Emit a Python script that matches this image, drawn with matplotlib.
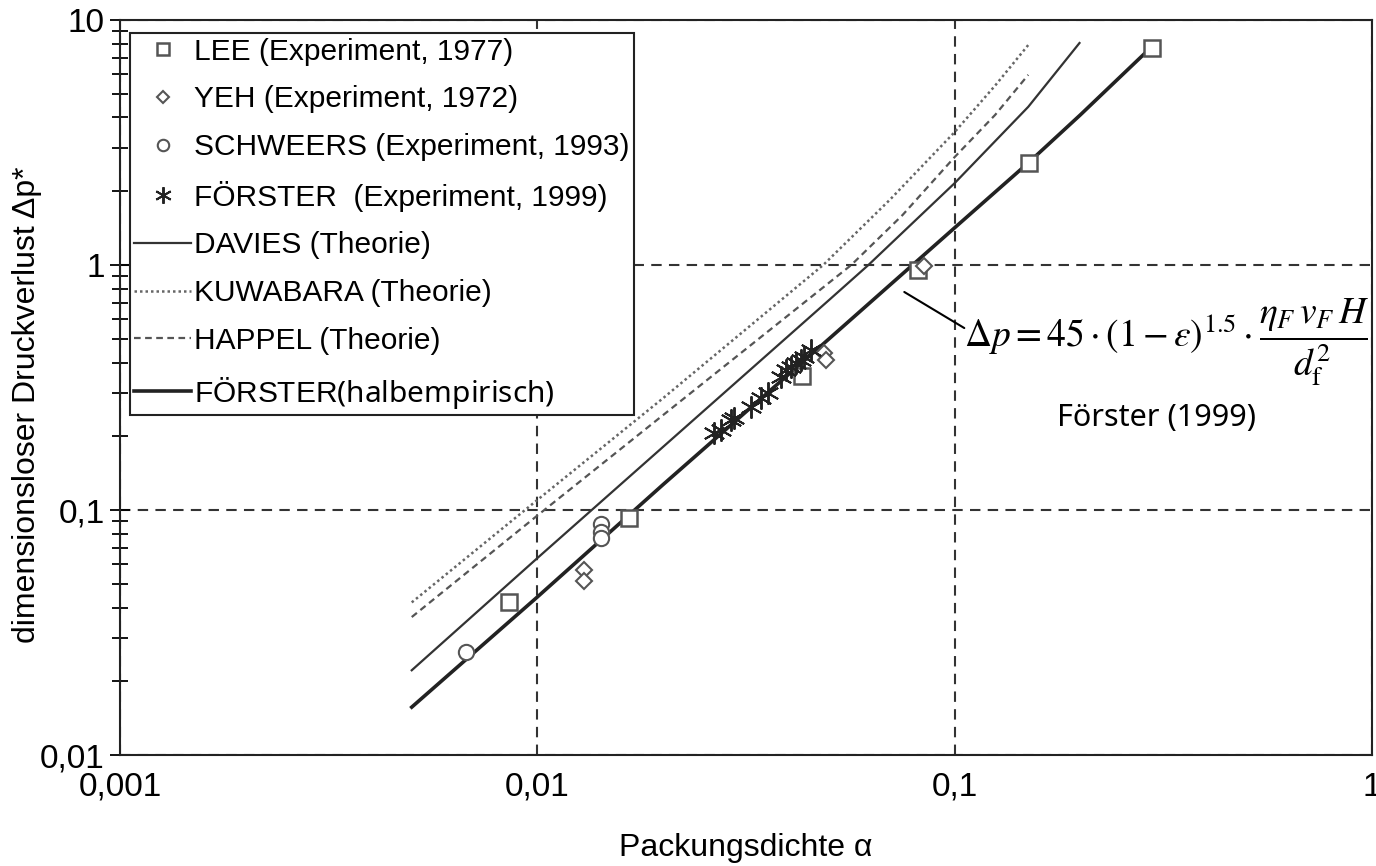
import matplotlib
matplotlib.use('Agg')
import matplotlib.pyplot as plt
from matplotlib.ticker import FixedLocator, FixedFormatter, LogLocator, NullLocator

# --- fonts: Helvetica-like for the figure, Noto Sans for the added notes ---
plt.rcParams['font.family'] = ['Liberation Sans', 'DejaVu Sans']
plt.rcParams['mathtext.fontset'] = 'custom'
plt.rcParams['mathtext.rm'] = 'Noto Sans'

# --- data ---
# experiments
lee_x = [0.00853, 0.01656, 0.0431, 0.0818, 0.151, 0.2966]
lee_y = [0.042, 0.0927, 0.352, 0.954, 2.61, 7.69]

yeh_x = [0.01292, 0.01292, 0.0485, 0.0492, 0.0845]
yeh_y = [0.0569, 0.0513, 0.438, 0.409, 0.99]

schweers_x = [0.00673, 0.0142, 0.0142, 0.0142]
schweers_y = [0.0263, 0.0877, 0.0813, 0.0769]

foerster_exp_x = [0.0265, 0.0275, 0.0291, 0.0296, 0.0325, 0.0344, 0.0357,
                  0.0384, 0.0394, 0.0405, 0.0417, 0.0428, 0.0436, 0.0453]
foerster_exp_y = [0.206, 0.212, 0.233, 0.238, 0.263, 0.286, 0.30,
                  0.349, 0.373, 0.384, 0.398, 0.41, 0.421, 0.45]

# theory curves
davies_x = [0.005, 0.01, 0.02, 0.05, 0.0621, 0.1, 0.15, 0.199]
davies_y = [0.0222, 0.0637, 0.181, 0.72, 1.0, 2.16, 4.42, 8.05]

kuwabara_x = [0.005, 0.01, 0.02, 0.0484, 0.07, 0.1, 0.125, 0.15]
kuwabara_y = [0.042, 0.11, 0.286, 1.0, 1.85, 3.49, 5.4, 7.9]

happel_x = [0.005, 0.01, 0.02, 0.0565, 0.075, 0.1, 0.125, 0.15]
happel_y = [0.0366, 0.095, 0.244, 1.0, 1.6, 2.76, 4.1, 5.97]

foerster_x = [0.005, 0.01, 0.02, 0.05, 0.1, 0.15, 0.2, 0.29]
foerster_y = [0.0157, 0.0442, 0.127, 0.50, 1.42, 2.61, 4.1, 7.5]

# tick labels with decimal comma
x_ticks = [0.001, 0.01, 0.1, 1]
x_labels = ['0,001', '0,01', '0,1', '1']
y_ticks = [0.01, 0.1, 1, 10]
y_labels = ['0,01', '0,1', '1', '10']

# --- canvas ---
fig = plt.figure(figsize=(13.76, 8.66), dpi=100)
ax = fig.add_axes([0.0872, 0.128, 0.910, 0.849])

ax.set_xscale('log')
ax.set_yscale('log')
ax.set_xlim(0.001, 1)
ax.set_ylim(0.01, 10)

# grid only on the decades
ax.grid(True, which='major', ls=(0, (5, 3.5)), lw=1.5, color='#333333')

mk_col = '#555555'

# experiment markers
ax.plot(lee_x, lee_y, 's', ms=11, mfc='white', mec=mk_col, mew=1.8,
        label='LEE (Experiment, 1977)', zorder=5)
ax.plot(yeh_x, yeh_y, 'D', ms=8, mfc='white', mec=mk_col, mew=1.5,
        label='YEH (Experiment, 1972)', zorder=5)
ax.plot(schweers_x, schweers_y, 'o', ms=11, mfc='white', mec=mk_col, mew=1.5,
        label='SCHWEERS (Experiment, 1993)', zorder=5)
ax.plot(foerster_exp_x, foerster_exp_y, ls='none', marker=(6, 2, 0), ms=16,
        mec='#222222', mew=1.4, label='FÖRSTER  (Experiment, 1999)', zorder=5)

# theory lines
ax.plot(davies_x, davies_y, '-', lw=1.6, color='#333333',
        label='DAVIES (Theorie)')
ax.plot(kuwabara_x, kuwabara_y, ls=(0, (1, 1.2)), lw=1.8, color='#666666',
        label='KUWABARA (Theorie)')
ax.plot(happel_x, happel_y, ls=(0, (3, 2)), lw=1.6, color='#555555',
        label='HAPPEL (Theorie)')
ax.plot(foerster_x, foerster_y, '-', lw=2.6, color='#222222',
        label=r'FÖRSTER$\mathrm{(halbempirisch)}$')

# ticks: only y gets marks crossing the spine
ax.xaxis.set_major_locator(FixedLocator(x_ticks))
ax.xaxis.set_major_formatter(FixedFormatter(x_labels))
ax.xaxis.set_minor_locator(NullLocator())
ax.yaxis.set_major_locator(FixedLocator(y_ticks))
ax.yaxis.set_major_formatter(FixedFormatter(y_labels))
ax.yaxis.set_minor_locator(LogLocator(base=10, subs=range(2, 10)))
ax.tick_params(axis='x', which='both', length=0, pad=12, labelsize=24)
ax.tick_params(axis='y', which='major', direction='inout', length=14,
               width=1.3, pad=4, labelsize=24)
ax.tick_params(axis='y', which='minor', direction='inout', length=11,
               width=1.3)
for sp in ax.spines.values():
    sp.set_linewidth(1.5)
    sp.set_color('#222222')

ax.set_xlabel('Packungsdichte α', fontsize=23, labelpad=22)
ax.set_ylabel('dimensionsloser Druckverlust Δp*', fontsize=23)
ax.yaxis.set_label_coords(-0.062, 0.476)

# legend in the upper left corner
leg = ax.legend(loc='upper left', bbox_to_anchor=(0.008, 0.982),
                borderaxespad=0, fontsize=21.5, frameon=True, fancybox=False,
                edgecolor='#222222', framealpha=1, borderpad=0.15,
                labelspacing=0.66, handlelength=1.9, handletextpad=0.1,
                markerscale=0.75, numpoints=1)
leg.get_frame().set_linewidth(1.5)
leg.set_zorder(10)

# formula with pointer to the FÖRSTER line
ax.annotate('', xy=(0.0757, 0.776), xytext=(0.1054, 0.553),
            arrowprops=dict(arrowstyle='-', lw=1.5, color='black',
                            shrinkA=0, shrinkB=0))
ax.text(0.8355, 0.562,
        r'$\Delta p=45\cdot\left(1-\varepsilon\right)^{1.5}\cdot\dfrac{\eta_F\,v_F\,H}{d_{\mathrm{f}}^{2}}$',
        transform=ax.transAxes, ha='center', va='center', fontsize=27,
        math_fontfamily='stix')
ax.text(0.828, 0.459, 'Förster (1999)', transform=ax.transAxes,
        ha='center', va='center', fontsize=22, family=['Noto Sans', 'DejaVu Sans'])

fig.savefig('out.png', dpi=100)
